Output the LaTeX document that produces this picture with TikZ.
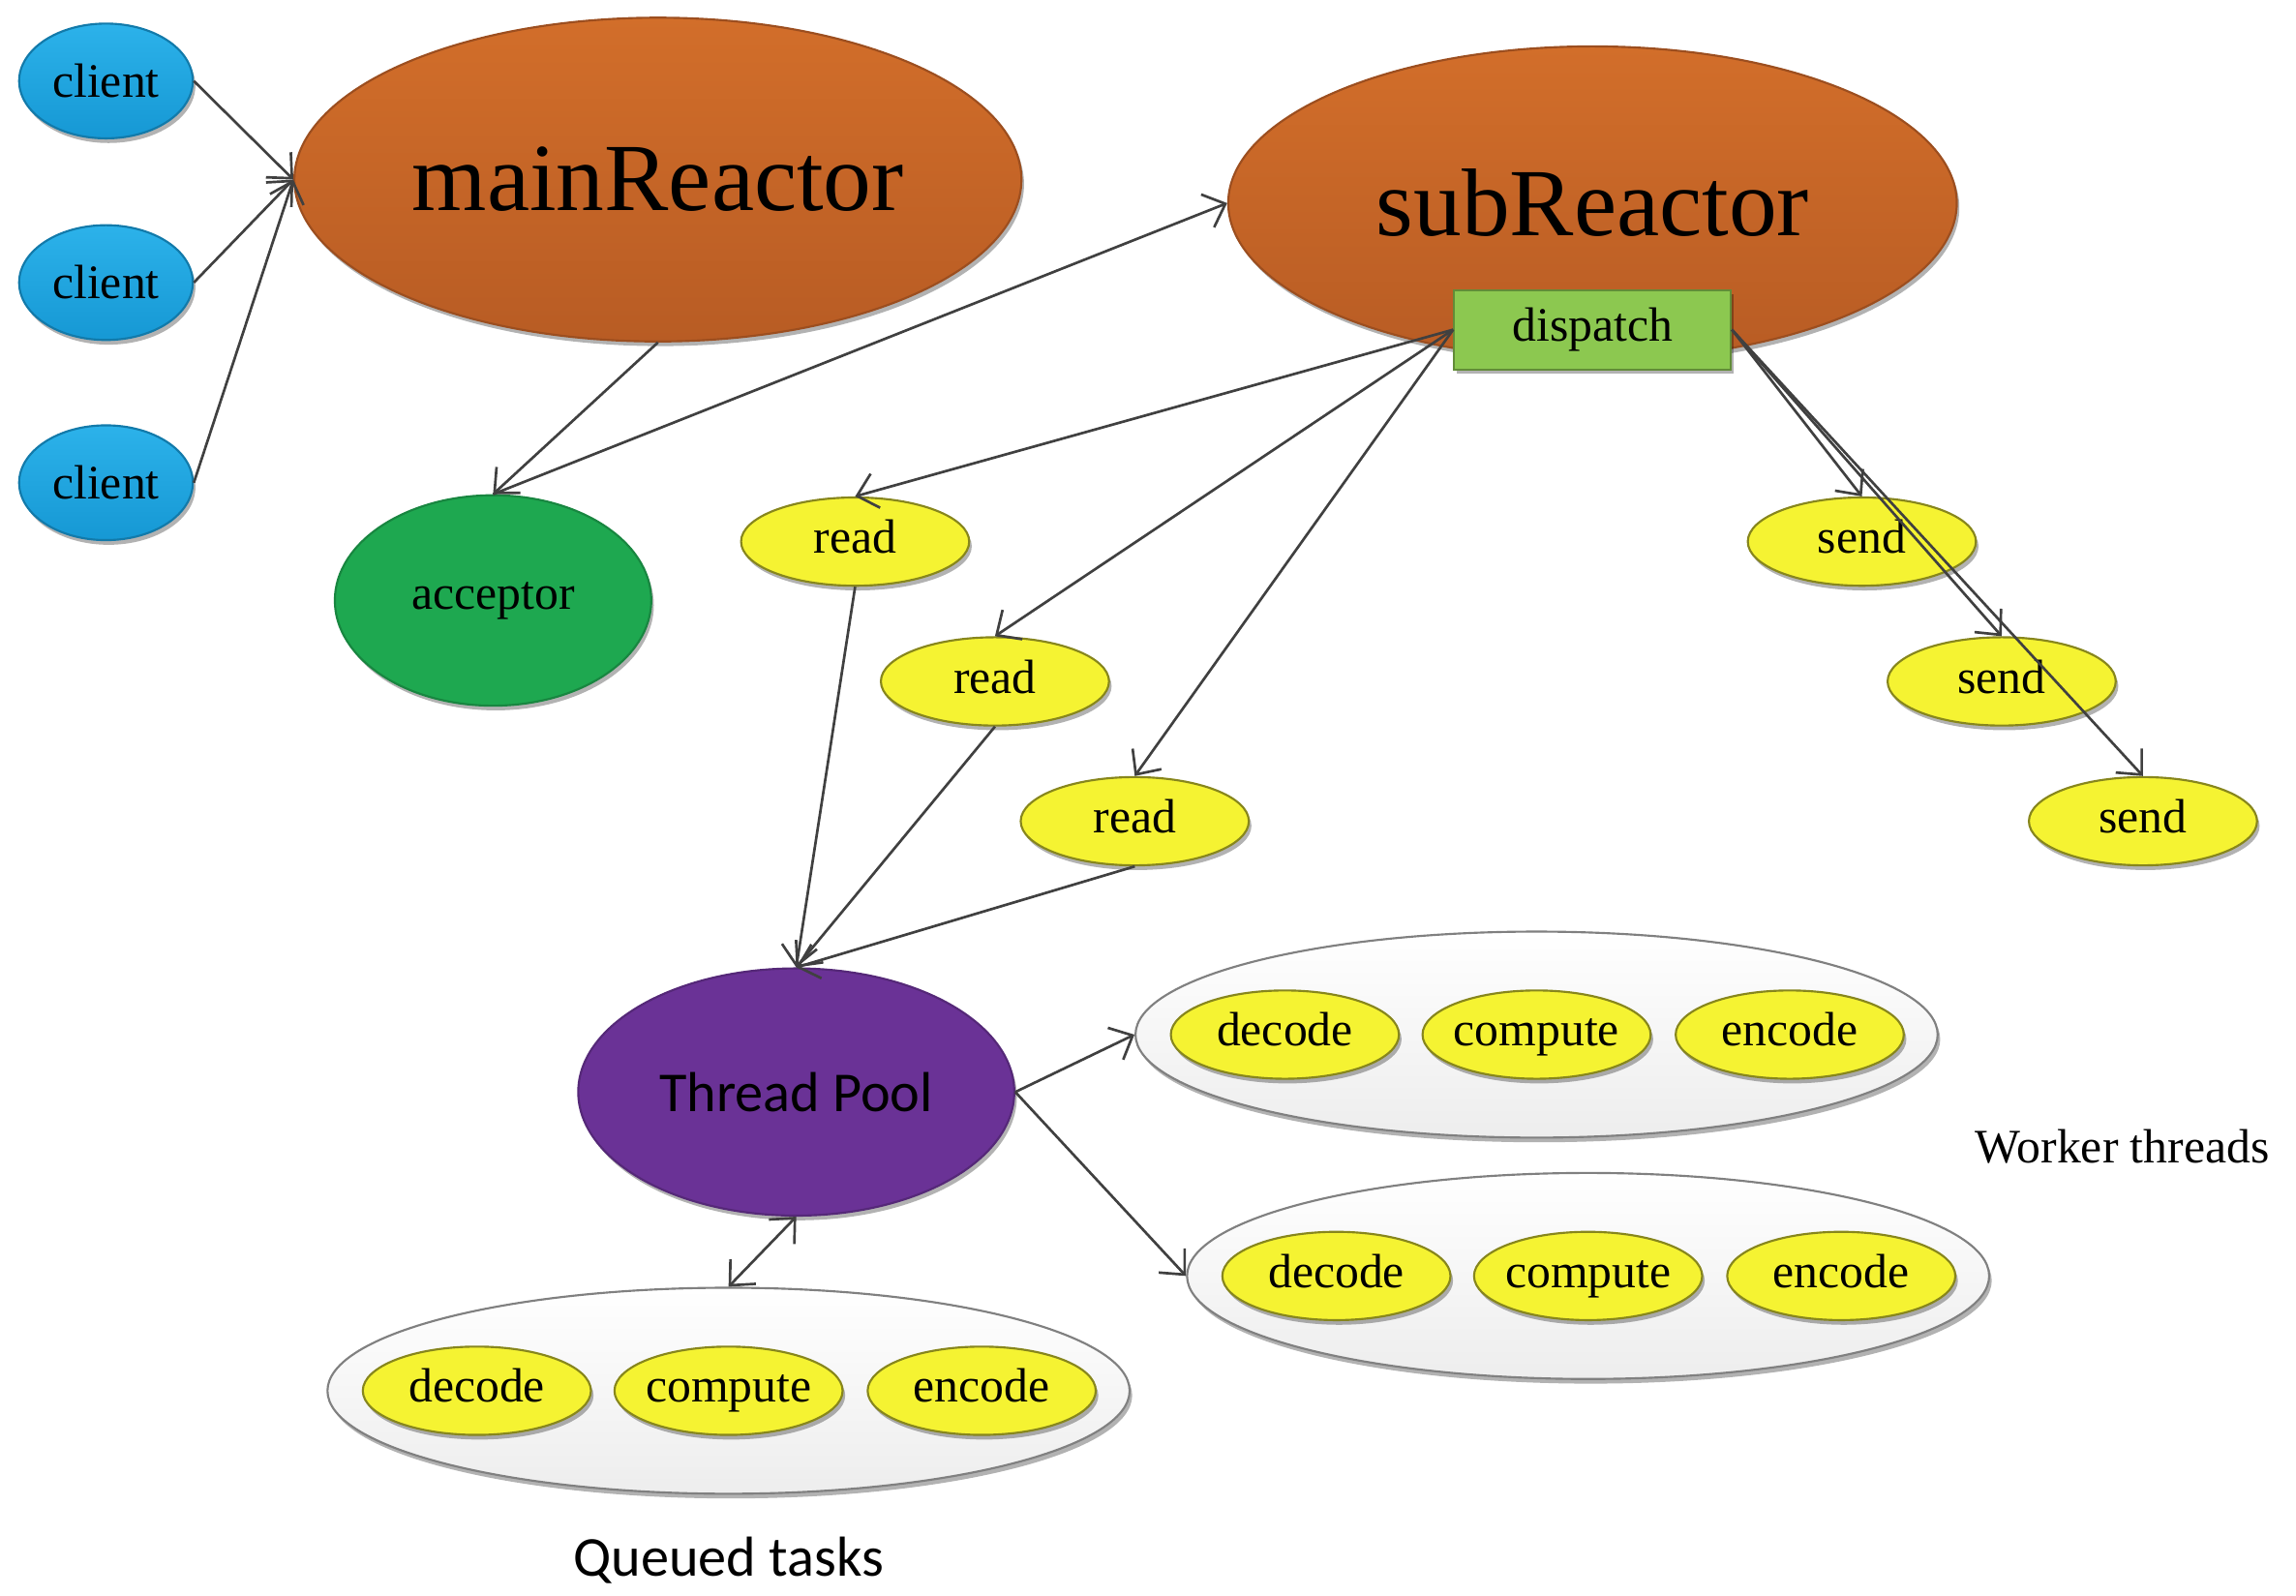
\documentclass[tikz,border=0pt]{standalone}
\usepackage{fontspec}
\setmainfont{Liberation Serif}
\newfontfamily\calfont{Carlito}
\usetikzlibrary{positioning,shapes.geometric,arrows.meta,shadows}
\definecolor{lineColor}{RGB}{64,64,64}
\definecolor{orangeTop}{RGB}{210,110,42}
\definecolor{orangeBot}{RGB}{184,92,36}
\definecolor{clientTop}{RGB}{44,178,234}
\definecolor{clientBot}{RGB}{22,152,212}
\definecolor{acceptorColor}{RGB}{30,168,80}
\definecolor{dispatchColor}{RGB}{140,200,80}
\definecolor{taskColor}{RGB}{245,243,50}
\definecolor{poolColor}{RGB}{106,50,150}
\tikzset{
    shadowed/.style={
        drop shadow={shadow xshift=0.5pt, shadow yshift=-0.9pt, opacity=0.3, fill=black}
    },
    client/.style={
        ellipse, shadowed,
        top color=clientTop, bottom color=clientBot,
        draw=clientBot!80!black,
        minimum width=1.18cm, minimum height=0.78cm,
        inner sep=0pt
    },
    reactor/.style={
        ellipse, shadowed,
        top color=orangeTop, bottom color=orangeBot,
        draw=orangeBot!85!black,
        inner sep=0pt,
        font=\fontsize{18.6}{22}\selectfont
    },
    task/.style={
        ellipse, shadowed,
        fill=taskColor, draw=taskColor!55!black,
        minimum width=1.55cm, minimum height=0.6cm,
        inner xsep=-0.6pt, inner ysep=0pt,
        text height=6.5pt, text depth=2pt
    },
    group/.style={
        ellipse, shadowed,
        top color=white, bottom color=gray!14,
        draw=gray,
        minimum width=5.45cm, minimum height=1.4cm
    },
    ptr/.style={
        -{Straight Barb[length=1.3mm,width=2.4mm]},
        draw=lineColor,
        line width=0.5pt
    },
    dptr/.style={
        {Straight Barb[length=1.3mm,width=2.4mm]}-{Straight Barb[length=1.3mm,width=2.4mm]},
        draw=lineColor,
        line width=0.5pt
    }
}
\begin{document}
\begin{tikzpicture}[font=\fontsize{9.3}{11}\selectfont]
    \useasboundingbox (0,0) rectangle (15.6,-10.84);

    \node[client] (client1) at (0.72,-0.55) {client};
    \node[client] (client2) at (0.72,-1.92) {client};
    \node[client] (client3) at (0.72,-3.28) {client};

    \node[reactor, minimum width=4.94cm, minimum height=2.2cm] (main) at (4.47,-1.22) {mainReactor};
    \node[reactor, minimum width=4.95cm, minimum height=2.13cm] (sub) at (10.82,-1.38) {subReactor};
    \node[rectangle, shadowed, fill=dispatchColor, draw=dispatchColor!70!black,
          minimum width=1.88cm, minimum height=0.54cm] (dispatch) at (10.82,-2.24) {dispatch};

    \node[ellipse, shadowed, fill=acceptorColor, draw=acceptorColor!80!black,
          minimum width=2.15cm, minimum height=1.43cm] (acceptor) at (3.35,-4.08) {acceptor};

    % read / send
    \node[task] (read1) at (5.81,-3.68) {read};
    \node[task] (read2) at (6.76,-4.63) {read};
    \node[task] (read3) at (7.71,-5.58) {read};
    \node[task] (send1) at (12.65,-3.68) {send};
    \node[task] (send2) at (13.60,-4.63) {send};
    \node[task] (send3) at (14.56,-5.58) {send};

    \node[ellipse, shadowed, fill=poolColor, draw=poolColor!80!black,
          minimum width=2.92cm, minimum height=1.68cm,
          font=\calfont\fontsize{10.9}{13}\selectfont] (pool) at (5.41,-7.42) {Thread Pool};

    % worker threads
    \node[group] (work1) at (10.44,-7.03) {};
    \node[task] (w1compute) at (work1) {compute};
    \node[task] (w1decode) at ([xshift=-1.71cm]w1compute) {decode};
    \node[task] (w1encode) at ([xshift=1.72cm]w1compute) {encode};

    \node[group] (work2) at (10.79,-8.67) {};
    \node[task] (w2compute) at (work2) {compute};
    \node[task] (w2decode) at ([xshift=-1.71cm]w2compute) {decode};
    \node[task] (w2encode) at ([xshift=1.72cm]w2compute) {encode};

    % queued tasks
    \node[group] (queue) at (4.95,-9.45) {};
    \node[task] (qcompute) at (queue) {compute};
    \node[task] (qdecode) at ([xshift=-1.71cm]qcompute) {decode};
    \node[task] (qencode) at ([xshift=1.72cm]qcompute) {encode};

    \node (workerLabel) at (14.42,-7.79) {Worker threads};
    \node[font=\calfont\fontsize{10.9}{13}\selectfont] (queueLabel) at (4.95,-10.60) {Queued tasks};

    \draw[ptr] (client1.east) -- (main.west);
    \draw[ptr] (client2.east) -- (main.west);
    \draw[ptr] (client3.east) -- (main.west);
    \draw[ptr] (main.south) -- (acceptor.north);
    \draw[ptr] (acceptor.north) -- (sub.west);

    \draw[ptr] (dispatch.west) -- (read1.north);
    \draw[ptr] (dispatch.west) -- (read2.north);
    \draw[ptr] (dispatch.west) -- (read3.north);
    \draw[ptr] (dispatch.east) -- (send1.north);
    \draw[ptr] (dispatch.east) -- (send2.north);
    \draw[ptr] (dispatch.east) -- (send3.north);

    \draw[ptr] (read1.south) -- (pool.north);
    \draw[ptr] (read2.south) -- (pool.north);
    \draw[ptr] (read3.south) -- (pool.north);

    \draw[ptr] (pool.east) -- (work1.west);
    \draw[ptr] (pool.east) -- (work2.west);
    \draw[dptr] (pool.south) -- (queue.north);
\end{tikzpicture}
\end{document}
